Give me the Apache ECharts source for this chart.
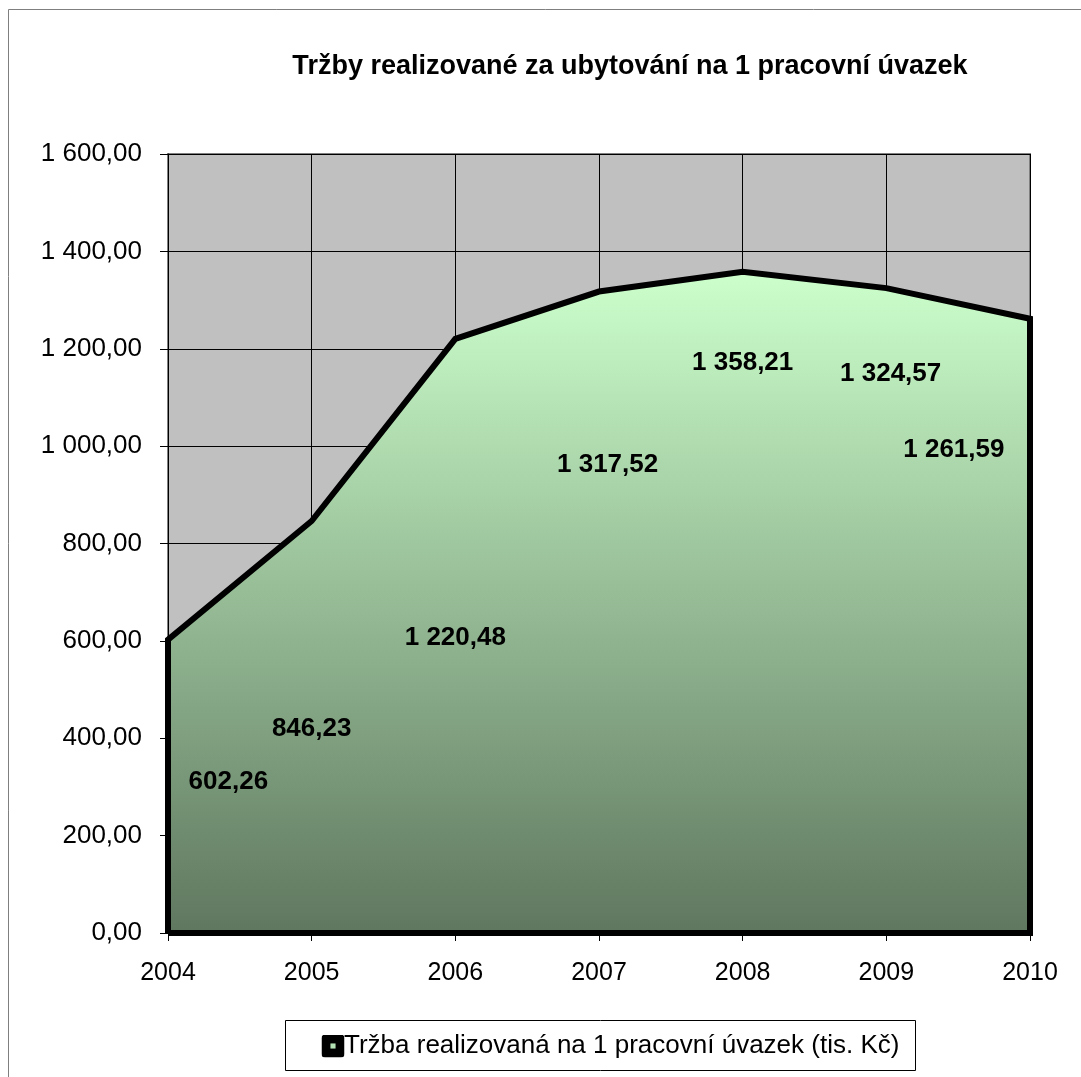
<!DOCTYPE html>
<html>
<head>
<meta charset="utf-8">
<script src="https://cdn.jsdelivr.net/npm/echarts@6/dist/echarts.min.js"></script>
<style>
html,body{margin:0;padding:0;background:#fff;}
#chart{width:1081px;height:1077px;}
</style>
</head>
<body>
<div id="chart"></div>
<script>
// ---- data ----
const years = [2004, 2005, 2006, 2007, 2008, 2009, 2010];
const values = [602.26, 846.23, 1220.48, 1317.52, 1358.21, 1324.57, 1261.59];
const yTicks = [0, 200, 400, 600, 800, 1000, 1200, 1400, 1600];
const titleText = 'Tržby realizované za ubytování na 1 pracovní úvazek';
const seriesName = 'Tržba realizovaná na 1 pracovní úvazek (tis. Kč)';

// ---- layout (label anchor points, in axis units, as placed in the reference) ----
const labelAnchorX = [2004.42, 2005.0, 2006.0, 2007.06, 2008.0, 2009.03, 2009.47];
const labelAnchorY = [310, 420, 607, 962, 1172, 1148, 993];

function fmt(v) {
  const s = v.toFixed(2).split('.');
  const int = s[0].replace(/\B(?=(\d{3})+(?!\d))/g, ' ');
  return int + ',' + s[1];
}

const FONT = '"Liberation Sans", Arial, sans-serif';
const areaData = years.map((y, i) => [y, values[i]]);
const outline = [[years[0], 0]].concat(areaData, [[years[years.length - 1], 0], [years[0], 0]]);
const labelData = values.map((v, i) => ({ value: [labelAnchorX[i], labelAnchorY[i]], raw: v }));

const icon = 'image://data:image/svg+xml;charset=utf-8,' + encodeURIComponent(
  "<svg xmlns='http://www.w3.org/2000/svg' width='18' height='18'><rect x='0' y='0' width='18' height='18' rx='3' ry='3' fill='#000'/><rect x='7' y='7' width='4' height='4' fill='#b5e2b5'/></svg>");

const chart = echarts.init(document.getElementById('chart'), null, { renderer: 'canvas' });
chart.setOption({
  animation: false,
  backgroundColor: '#ffffff',
  textStyle: { fontFamily: FONT },
  graphic: [
    { type: 'rect', z: -10, silent: true,
      shape: { x: 8.5, y: 9.5, width: 1200, height: 1200 },
      style: { fill: 'none', stroke: '#7f7f7f', lineWidth: 1 } },
    { type: 'text', z: 10,
      style: { x: 630, y: 67, text: titleText, textAlign: 'center', textVerticalAlign: 'middle',
               font: 'bold 27px ' + FONT, fill: '#000' } },
    { type: 'rect', z: 1, silent: true,
      shape: { x: 285.5, y: 1020.5, width: 630, height: 50 },
      style: { fill: '#fff', stroke: '#000', lineWidth: 1 } }
  ],
  legend: {
    left: 321, top: 1033, padding: 0, z: 5,
    itemWidth: 24, itemHeight: 23, itemGap: 0,
    textStyle: { fontSize: 26, color: '#000', fontFamily: FONT, padding: [0, 0, 0, -6] },
    data: [{ name: seriesName, icon: icon }]
  },
  grid: {
    left: 168, right: 51, top: 154, bottom: 144,
    show: true, backgroundColor: '#c0c0c0', borderColor: '#808080', borderWidth: 2
  },
  xAxis: {
    type: 'value', min: 2004, max: 2010, interval: 1,
    axisLine: { show: true, lineStyle: { color: '#000', width: 1 } },
    axisTick: { show: true, length: 8, lineStyle: { color: '#000' } },
    axisLabel: { margin: 28, fontSize: 25, color: '#000', formatter: v => String(v) },
    splitLine: { show: true, lineStyle: { color: '#000', width: 1 } }
  },
  yAxis: {
    type: 'value', min: yTicks[0], max: yTicks[yTicks.length - 1], interval: yTicks[1] - yTicks[0],
    axisLine: { show: true, lineStyle: { color: '#000', width: 1 } },
    axisTick: { show: true, length: 8, lineStyle: { color: '#000' } },
    axisLabel: { margin: 26, fontSize: 26, color: '#000', formatter: v => fmt(v) },
    splitLine: { show: true, lineStyle: { color: '#000', width: 1 } }
  },
  series: [
    {
      name: seriesName, type: 'line', data: areaData, symbol: 'none', z: 2,
      itemStyle: { color: '#b5e2b5' },
      lineStyle: { width: 0 },
      areaStyle: {
        opacity: 1,
        color: new echarts.graphic.LinearGradient(0, 0, 0, 1, [
          { offset: 0, color: '#ccffcc' },
          { offset: 1, color: '#5f775f' }
        ])
      }
    },
    {
      name: 'outline', type: 'line', data: outline, symbol: 'none', z: 3, clip: false,
      lineStyle: { color: '#000', width: 6, join: 'miter' }, silent: true
    },
    {
      name: 'labels', type: 'scatter', data: labelData, symbolSize: 0, z: 4, silent: true,
      itemStyle: { color: '#000', opacity: 1 },
      label: {
        show: true, position: 'inside', color: '#000', opacity: 1,
        textBorderWidth: 0, textBorderColor: 'transparent',
        fontSize: 26, fontWeight: 'bold', fontFamily: FONT,
        formatter: p => fmt(p.data.raw)
      }
    }
  ]
});
</script>
</body>
</html>
